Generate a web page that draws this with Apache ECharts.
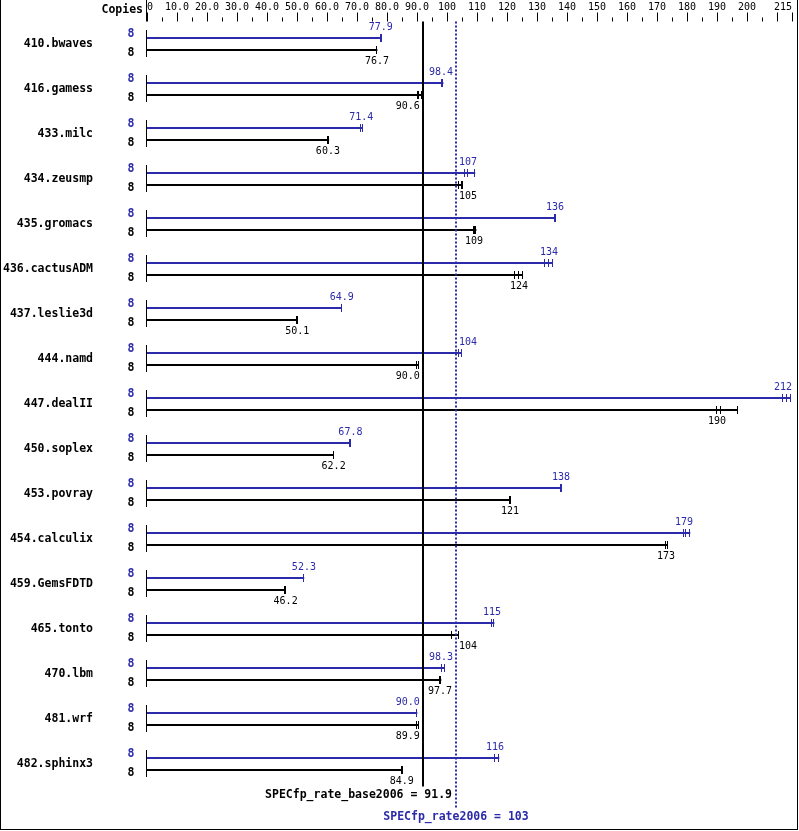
<!DOCTYPE html>
<html><head><meta charset="utf-8">
<script src="https://cdn.jsdelivr.net/npm/echarts@6/dist/echarts.min.js"></script>
<style>
html,body{margin:0;padding:0;background:#fff}
#wrap{position:relative;width:799px;height:831px;overflow:hidden;background:#fff}
#c{position:absolute;left:0;top:0;width:799px;height:831px}
#b{position:absolute;left:0;top:0;width:798px;height:830px;box-sizing:border-box;border-left:1px solid #000;border-right:1px solid #000;border-bottom:1px solid #000;pointer-events:none}
</style>
</head><body>
<div id="wrap"><div id="c"></div><div id="b"></div></div>
<script>
const benchmarks = ['410.bwaves','416.gamess','433.milc','434.zeusmp','435.gromacs','436.cactusADM','437.leslie3d','444.namd','447.dealII','450.soplex','453.povray','454.calculix','459.GemsFDTD','465.tonto','470.lbm','481.wrf','482.sphinx3'];
const copiesPeak = [8,8,8,8,8,8,8,8,8,8,8,8,8,8,8,8,8];
const copiesBase = [8,8,8,8,8,8,8,8,8,8,8,8,8,8,8,8,8];
const peakRatio = [77.9, 98.4, 71.4, 107, 136, 134, 64.9, 104, 212, 67.8, 138, 179, 52.3, 115, 98.3, 90.0, 116];
const peakOtherRuns = [[77.9,78.2],[98.4,98.8],[71.4,71.9],[105.9,109.4],[136.1,136.2],[132.7,135.3],[64.9,65.0],[104.0,105.0],[213.2,214.5],[67.8,68.0],[138.0,138.2],[179.7,181.1],[52.3,52.4],[115.0,115.8],[98.3,99.3],[90.1,90.1],[116.0,117.4]];
const baseRatio = [76.7, 90.6, 60.3, 105, 109, 124, 50.1, 90.0, 190, 62.2, 121, 173, 46.2, 104, 97.7, 89.9, 84.9];
const baseOtherRuns = [[76.7,76.8],[90.2,91.5],[60.3,60.7],[104.0,105.3],[109.3,109.8],[122.7,125.3],[50.1,50.2],[90.0,90.6],[191.3,197.0],[62.2,62.3],[121.0,121.3],[173.0,173.6],[46.1,46.2],[101.5,104.0],[97.9,98.1],[89.9,90.5],[84.9,85.2]];
const baseMean = 91.9;
const peakMean = 103;
const baseLabel = 'SPECfp_rate_base2006 = 91.9';
const peakLabel = 'SPECfp_rate2006 = 103';
const axisMin = 0, axisMax = 215, tickStep = 10;

const BLUE = '#2a2aaa';
const MONO = '"DejaVu Sans Mono", "Liberation Mono", monospace';

function fmt(v) { return v >= 100 ? String(Math.round(v)) : v.toFixed(1); }

function makeRender(kind) {
  const peak = kind === 'peak';
  const color = peak ? BLUE : '#000';
  return function (params, api) {
    const idx = api.value(0);
    const ratio = api.value(1);
    const runs = [ratio, api.value(2), api.value(3)];
    const copies = api.value(4);
    const c0 = api.coord([0, idx]);
    const yMid = Math.round(c0[1]);
    const yc = yMid + (peak ? -6 : 6);
    const x0 = c0[0];
    const xEnd = api.coord([Math.max.apply(null, runs), idx])[0];
    const children = [];
    if (!peak) {
      children.push({type:'line', shape:{x1:x0-0.5,y1:yMid-14,x2:x0-0.5,y2:yMid+13}, style:{stroke:'#000',lineWidth:1}});
    }
    children.push({type:'line', shape:{x1:x0,y1:yc,x2:xEnd,y2:yc}, style:{stroke:color,lineWidth:2}});
    runs.forEach(function (r) {
      const x = Math.round(api.coord([r, idx])[0]) - 0.5;
      children.push({type:'line', shape:{x1:x,y1:yc-4,x2:x,y2:yc+4}, style:{stroke:color,lineWidth:1}});
    });
    const txt = fmt(ratio);
    const w = txt.length * 6;
    let cx = api.coord([ratio, idx])[0];
    [api.coord([baseMean, idx])[0], api.coord([peakMean, idx])[0]].forEach(function (L) {
      if (cx - w/2 < L + 3 && cx + w/2 > L - 3) {
        cx = cx < L ? L - 3 - w/2 : L + 3 + w/2;
      }
    });
    const right = params.coordSys.x + params.coordSys.width;
    if (cx + w/2 > right) cx = right - w/2;
    children.push({type:'text', style:{text:txt, x:cx, y: peak ? yc-11 : yc+11, align:'center', verticalAlign:'middle', font:'10px ' + MONO, fill:color}});
    children.push({type:'text', style:{text:String(copies), x:x0-16, y: peak ? yc-4 : yc+3, align:'center', verticalAlign:'middle', font:'bold 11.5px ' + MONO, fill:color}});
    return {type:'group', children:children};
  };
}

function renderSummary(params, api) {
  const cs = params.coordSys;
  const v = api.value(0);
  const isPeak = params.dataIndex === 1;
  const x = Math.round(api.coord([v, 0])[0]);
  const xPeak = api.coord([peakMean, 0])[0];
  const bottom = cs.y + cs.height;
  const children = [];
  if (!isPeak) {
    children.push({type:'line', shape:{x1:x,y1:cs.y,x2:x,y2:bottom}, style:{stroke:'#000',lineWidth:2}});
    children.push({type:'text', style:{text:baseLabel, x:xPeak-4, y:bottom+9, align:'right', verticalAlign:'middle', font:'bold 11.5px ' + MONO, fill:'#000'}});
    children.push({type:'line', shape:{x1:cs.x-0.5,y1:0,x2:cs.x-0.5,y2:cs.y},style:{stroke:'#000',lineWidth:1}});
  } else {
    children.push({type:'line', shape:{x1:x,y1:cs.y,x2:x,y2:bottom+21}, style:{stroke:BLUE,lineWidth:2,lineDash:[2,2]}});
    children.push({type:'text', style:{text:peakLabel, x:x, y:bottom+31, align:'center', verticalAlign:'middle', font:'bold 11.5px ' + MONO, fill:BLUE}});
  }
  return {type:'group', children:children};
}

const chart = echarts.init(document.getElementById('c'), null, {renderer:'canvas'});
chart.setOption({
  animation: false,
  backgroundColor: '#fff',
  grid: {left:147, right:7, top:21.5, bottom:44.5},
  xAxis: {
    type:'value', position:'top', min:axisMin, max:axisMax, interval:tickStep,
    axisLine:{show:false},
    axisTick:{show:true, length:9, lineStyle:{color:'#000', width:1}},
    minorTick:{show:true, splitNumber:2, length:4, lineStyle:{color:'#000', width:1}},
    splitLine:{show:false}, minorSplitLine:{show:false},
    axisLabel:{
      margin:9, color:'#000', fontSize:10, fontFamily:MONO,
      showMinLabel:true, showMaxLabel:true,
      alignMinLabel:'left', alignMaxLabel:'right',
      formatter:function (v) {
        if (v > axisMax - tickStep && v < axisMax) return '';
        return v >= 100 ? String(v) : v.toFixed(1).replace(/^0\.0$/, '0');
      }
    }
  },
  yAxis: {
    type:'category', data:benchmarks, inverse:true,
    axisLine:{show:false}, axisTick:{show:false}, splitLine:{show:false},
    axisLabel:{margin:54, color:'#000', fontSize:11.5, fontWeight:'bold', fontFamily:MONO}
  },
  graphic: [{type:'text', x:143, y:10, style:{text:'Copies', align:'right', verticalAlign:'middle', font:'bold 11.5px ' + MONO, fill:'#000'}}],
  series: [
    {type:'custom', name:'peak', clip:false, renderItem:makeRender('peak'),
      data: benchmarks.map(function (b, i) { return [i, peakRatio[i], peakOtherRuns[i][0], peakOtherRuns[i][1], copiesPeak[i]]; })},
    {type:'custom', name:'base', clip:false, renderItem:makeRender('base'),
      data: benchmarks.map(function (b, i) { return [i, baseRatio[i], baseOtherRuns[i][0], baseOtherRuns[i][1], copiesBase[i]]; })},
    {type:'custom', name:'summary', clip:false, renderItem:renderSummary,
      data: [[baseMean, 0], [peakMean, 0]]}
  ]
});
</script>
</body></html>
